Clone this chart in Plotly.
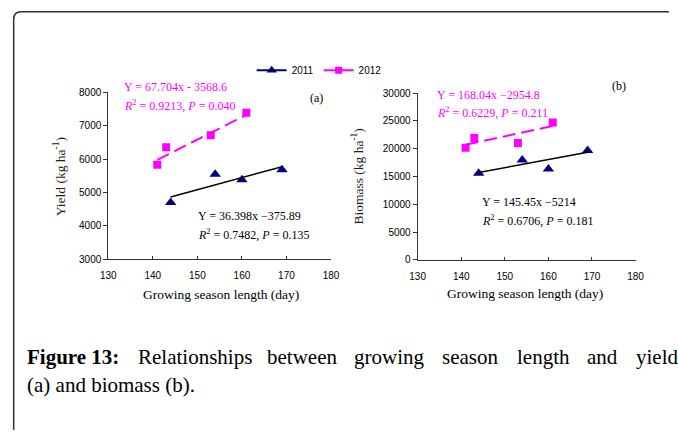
import plotly.graph_objects as go

W, H = 678, 436
# The photographed page shows the figure offset by the 8px body margin and slightly
# scaled (694x452 -> 678x436); positions below are given in picture pixels and mapped.
SX, SY, OFF = 694 / 678, 452 / 436, 8

# ---- data ----
gsl_2011 = [144, 154, 160, 169]
gsl_2012 = [141, 143, 153, 161]
yield_2011 = [4700, 5550, 5380, 5680]
yield_2012 = [5830, 6360, 6720, 7390]
biomass_2011 = [15580, 18000, 16360, 19700]
biomass_2012 = [20180, 21940, 21030, 24730]

# regression equations (slope, intercept) as printed
fit_yield_2011 = (36.398, -375.89)
fit_yield_2012 = (67.704, -3568.6)
fit_bio_2011 = (145.45, -5214)
fit_bio_2012 = (168.04, -2954.8)

x_ticks = [130, 140, 150, 160, 170, 180]
yield_ticks = [3000, 4000, 5000, 6000, 7000, 8000]
bio_ticks = [0, 5000, 10000, 15000, 20000, 25000, 30000]

caption_words = ["<b>Figure 13:</b>", "Relationships", "between", "growing",
                 "season", "length", "and", "yield"]
caption_word_x = [25, 136, 265, 353, 441, 516, 586, 635]
caption_line2 = "(a) and biomass (b)."

NAVY = "#000080"
MAG = "#FF00FF"
SERIF = "Liberation Serif, Times New Roman, serif"
SANS = "Liberation Sans, Arial, sans-serif"
DASH = "13px,6px"


def px(x):
    return (x * SX - OFF) / W


def py(y):
    return 1 - (y * SY - OFF) / H


def fit_line(xs, fit):
    a, b = fit
    x0, x1 = min(xs), max(xs)
    return [x0, x1], [a * x0 + b, a * x1 + b]


fig = go.Figure()

# panel (a)
fig.add_trace(go.Scatter(x=gsl_2011, y=yield_2011, mode="markers", name="2011",
                         marker=dict(symbol="triangle-up", size=10, color=NAVY),
                         xaxis="x", yaxis="y", showlegend=False))
fig.add_trace(go.Scatter(x=gsl_2012, y=yield_2012, mode="markers", name="2012",
                         marker=dict(symbol="square", size=8, color=MAG),
                         xaxis="x", yaxis="y", showlegend=False))
lx, ly = fit_line(gsl_2011, fit_yield_2011)
fig.add_trace(go.Scatter(x=lx, y=ly, mode="lines", line=dict(color="black", width=1.5),
                         xaxis="x", yaxis="y", showlegend=False))
lx, ly = fit_line(gsl_2012, fit_yield_2012)
fig.add_trace(go.Scatter(x=lx, y=ly, mode="lines", line=dict(color=MAG, width=2, dash=DASH),
                         xaxis="x", yaxis="y", showlegend=False))

# panel (b)
fig.add_trace(go.Scatter(x=gsl_2011, y=biomass_2011, mode="markers", name="2011",
                         marker=dict(symbol="triangle-up", size=10, color=NAVY),
                         xaxis="x2", yaxis="y2", showlegend=False))
fig.add_trace(go.Scatter(x=gsl_2012, y=biomass_2012, mode="markers", name="2012",
                         marker=dict(symbol="square", size=8, color=MAG),
                         xaxis="x2", yaxis="y2", showlegend=False))
lx, ly = fit_line(gsl_2011, fit_bio_2011)
fig.add_trace(go.Scatter(x=lx, y=ly, mode="lines", line=dict(color="black", width=1.5),
                         xaxis="x2", yaxis="y2", showlegend=False))
lx, ly = fit_line(gsl_2012, fit_bio_2012)
fig.add_trace(go.Scatter(x=lx, y=ly, mode="lines", line=dict(color=MAG, width=2, dash=DASH),
                         xaxis="x2", yaxis="y2", showlegend=False))

# legend entries (lines+markers)
fig.add_trace(go.Scatter(x=[None], y=[None], mode="lines+markers", name="2011",
                         marker=dict(symbol="triangle-up", size=9, color=NAVY),
                         line=dict(color=NAVY, width=2), xaxis="x", yaxis="y"))
fig.add_trace(go.Scatter(x=[None], y=[None], mode="lines+markers", name="2012",
                         marker=dict(symbol="square", size=7, color=MAG),
                         line=dict(color=MAG, width=2), xaxis="x", yaxis="y"))

axis_common = dict(showgrid=False, zeroline=False, showline=True, linecolor="#333333",
                   linewidth=1, tickcolor="#333333", tickformat="d",
                   tickfont=dict(family=SANS, size=10, color="black"))
xaxis_style = dict(ticks="inside", ticklen=3, ticklabelstandoff=7, **axis_common)
yaxis_style = dict(ticks="outside", ticklen=4, **axis_common)

fig.update_layout(
    width=W, height=H, margin=dict(l=0, r=0, t=0, b=0),
    paper_bgcolor="white", plot_bgcolor="white",
    xaxis=dict(domain=[px(108.3), px(331.5)], range=[130, 180], tickvals=x_ticks,
               anchor="y", **xaxis_style),
    yaxis=dict(domain=[py(259.3), py(94.3)], range=[3000, 8000], tickvals=yield_ticks,
               anchor="x", **yaxis_style),
    xaxis2=dict(domain=[px(418.3), px(636.7)], range=[130, 180], tickvals=x_ticks,
                anchor="y2", **xaxis_style),
    yaxis2=dict(domain=[py(260), py(95)], range=[0, 30000], tickvals=bio_ticks,
                anchor="x2", **yaxis_style),
    legend=dict(orientation="h", x=px(252), y=py(58), xanchor="left", yanchor="top",
                font=dict(family=SANS, size=10, color="black"), itemwidth=30,
                bgcolor="rgba(0,0,0,0)", tracegroupgap=0),
)

ann = []


def text(x, y, t, size=12, color="black", family=SERIF, xanchor="left", **kw):
    ann.append(dict(xref="paper", yref="paper", x=px(x), y=py(y), text=t,
                    showarrow=False, xanchor=xanchor, yanchor="middle",
                    font=dict(family=family, size=size, color=color), **kw))


# axis titles
text(221, 294, "Growing season length (day)", size=13.5, xanchor="center")
text(526, 293, "Growing season length (day)", size=13.5, xanchor="center")
ann.append(dict(xref="paper", yref="paper", x=px(59), y=py(178), text="Yield (kg ha<sup>-1</sup>)",
                showarrow=False, textangle=-90, xanchor="center", yanchor="middle",
                font=dict(family=SERIF, size=13.5, color="#2a1a10")))
ann.append(dict(xref="paper", yref="paper", x=px(358), y=py(177), text="Biomass (kg ha<sup>-1</sup>)",
                showarrow=False, textangle=-90, xanchor="center", yanchor="middle",
                font=dict(family=SERIF, size=13.5, color="#2a1a10")))

# panel labels
text(317, 100, "(a)", size=12, xanchor="center")
text(620, 88, "(b)", size=12, xanchor="center")

# equations
text(122, 89, "Y = 67.704x - 3568.6", color=MAG)
text(122, 107, "<i>R</i><sup>2</sup> = 0.9213, <i>P</i> = 0.040", color=MAG)
text(196, 217, "Y = 36.398x −375.89")
text(196, 235, "<i>R</i><sup>2</sup> = 0.7482, <i>P</i> = 0.135")
text(436, 97, "Y = 168.04x −2954.8", color=MAG)
text(436, 114, "<i>R</i><sup>2</sup> = 0.6229, <i>P</i> = 0.211", color=MAG)
text(481, 203, "Y = 145.45x −5214")
text(481, 221, "<i>R</i><sup>2</sup> = 0.6706, <i>P</i> = 0.181")

# caption (justified first line: one word per annotation)
for wx, w in zip(caption_word_x, caption_words):
    text(wx, 356, w, size=21)
text(25, 384, caption_line2, size=21)

fig.update_layout(annotations=ann)

# frame with rounded top-left corner
fig.add_shape(type="path", xref="paper", yref="paper",
              path=(f"M {px(13.5)},0 L {px(13.5)},{py(22)} "
                    f"Q {px(13.5)},{py(14.5)} {px(21)},{py(14.5)} L 1,{py(14.5)}"),
              line=dict(color="#333333", width=1.5))

fig.write_html("out.html")
